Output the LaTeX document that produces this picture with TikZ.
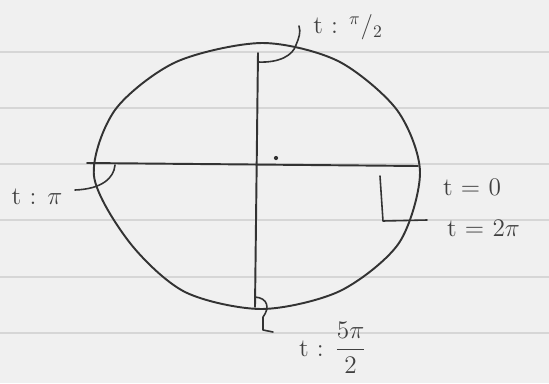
\documentclass[tikz,border=0pt]{standalone}
\usetikzlibrary{positioning,calc}
\tikzset{
  pen/.style={draw=black!80, line width=1.1pt, line cap=round, line join=round},
  ruling/.style={draw=black!16, line width=0.8pt},
  anglemark/.style={pen, line width=0.9pt},
  tlabel/.style={font=\Large, text=black!75, inner sep=1pt}
}
\begin{document}
\begin{tikzpicture}[x=0.02cm,y=-0.02cm]
\useasboundingbox[fill=black!6] (0,0) rectangle (549,383);

% Renglones de la hoja
\foreach \yy in {52,108,164,220,277,333}
  \draw[ruling] (0,\yy) -- (549,\yy);

% Elipse a mano alzada
\draw[pen] plot[smooth cycle] coordinates {
  (420,172) (399,243) (340,291) (262,309) (185,292) (130,243)
  (94,176) (115,110) (176,62) (262,43) (338,61) (397,110)};

% Ejes
\coordinate (ejeL) at (87,163);
\coordinate (ejeR) at (418,166);
\coordinate (ejeT) at (258,53);
\coordinate (ejeB) at (255,307);
\draw[pen] (ejeL) -- (ejeR);
\draw[pen] (ejeT) -- (ejeB);
\fill[black!80] (276,158) circle (1.2pt);

% Marcas de angulo
\draw[anglemark] (258,62) .. controls (280,63) and (293,55) .. (296,45)
  .. controls (299,38) and (301,32) .. (299,26);
\draw[anglemark] (115,165) .. controls (114,178) and (102,189) .. (75,190);
\draw[anglemark] (380,176) -- (383,221) -- (427,220);
\draw[anglemark] (255,297) .. controls (268,298) and (270,308) .. (263,317)
  -- (263,330) -- (273,332);

% Etiquetas
\node[tlabel] (tTop) at (348,27) {t : ${}^{\pi}/_{2}$};
\node[tlabel, anchor=west] (tZero) at (441,187) {t = 0};
\node[tlabel, anchor=west] (tTwoPi) at (445,228) {t = 2$\pi$};
\node[tlabel] (tPi) at (37,197) {t : $\pi$};
\node[tlabel, anchor=west] (tFive) at (297,348) {t : $\displaystyle\frac{5\pi}{2}$};

\end{tikzpicture}
\end{document}
